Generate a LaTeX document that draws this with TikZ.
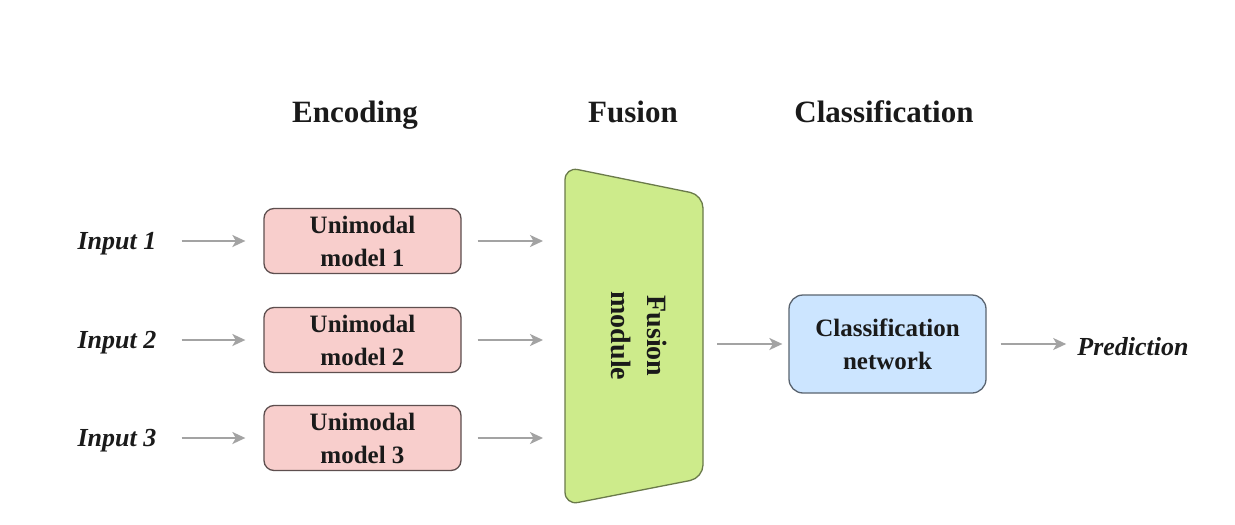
\documentclass[tikz,border=0pt]{standalone}
\usepackage{fontspec}
\setmainfont{Liberation Serif}
\usetikzlibrary{arrows.meta}
\definecolor{pinkfill}{HTML}{F8CECC}
\definecolor{pinkdraw}{HTML}{5E4F4F}
\definecolor{greenfill}{HTML}{CDEB8B}
\definecolor{greendraw}{HTML}{6A7A4A}
\definecolor{bluefill}{HTML}{CCE5FF}
\definecolor{bluedraw}{HTML}{5A6470}
\definecolor{arrowgray}{HTML}{A3A3A3}
\definecolor{txt}{HTML}{1A1A1A}
\begin{document}
\begin{tikzpicture}[x=1pt,y=-1pt,
  heading/.style={font=\fontsize{31}{36}\selectfont\bfseries, text=txt, inner sep=0pt, anchor=base},
  inlabel/.style={font=\fontsize{26}{32}\selectfont\bfseries\itshape, text=txt, inner sep=0pt},
  unibox/.style={draw=pinkdraw, fill=pinkfill, line width=1.3pt, rounded corners=10pt,
    minimum width=197pt, minimum height=65pt, align=center, inner sep=0pt,
    font=\fontsize{25}{33}\selectfont\bfseries, text=txt},
  clsbox/.style={draw=bluedraw, fill=bluefill, line width=1.3pt, rounded corners=14pt,
    minimum width=197pt, minimum height=98pt, align=center, inner sep=0pt,
    font=\fontsize{25}{33}\selectfont\bfseries, text=txt},
  conn/.style={draw=arrowgray, line width=2pt, -{Stealth[length=13pt,width=12pt,inset=3.5pt]}},
]
\useasboundingbox (0,0) rectangle (1235,525);
\fill[white] (0,0) rectangle (1235,525);

% headings
\node[heading] (hEnc) at (355,122) {Encoding};
\node[heading] (hFus) at (633,122) {Fusion};
\node[heading] (hCls) at (884,122) {Classification};

% inputs
\node[inlabel] (in1) at (117,244) {Input 1};
\node[inlabel] (in2) at (117,343) {Input 2};
\node[inlabel] (in3) at (117,441) {Input 3};

% unimodal boxes
\node[unibox] (u1) at (362.5,241) {Unimodal\\model 1};
\node[unibox] (u2) at (362.5,340) {Unimodal\\model 2};
\node[unibox] (u3) at (362.5,438) {Unimodal\\model 3};

% fusion module
\draw[draw=greendraw, fill=greenfill, line width=1.3pt, rounded corners=13pt]
  (565,167) -- (703,195) -- (703,478) -- (565,505) -- cycle;
\node[minimum width=138pt, minimum height=338pt, inner sep=0pt] (fus) at (634,336) {};
\node[rotate=-90, align=center, inner sep=0pt, font=\fontsize{28}{36}\selectfont\bfseries, text=txt]
  (fustext) at (639,336) {Fusion\\module};

% classification
\node[clsbox] (cls) at (887.5,344) {Classification\\network};
\node[inlabel] (pred) at (1133,347) {Prediction};

% connectors
\coordinate (f1) at (543,241);
\coordinate (f2) at (543,340);
\coordinate (f3) at (543,438);
\draw[conn, shorten <=25pt, shorten >=18pt] (in1.east |- u1.west) -- (u1.west);
\draw[conn, shorten <=25pt, shorten >=18pt] (in2.east |- u2.west) -- (u2.west);
\draw[conn, shorten <=25pt, shorten >=18pt] (in3.east |- u3.west) -- (u3.west);
\draw[conn, shorten <=16pt] (u1.east) -- (f1);
\draw[conn, shorten <=16pt] (u2.east) -- (f2);
\draw[conn, shorten <=16pt] (u3.east) -- (f3);
\draw[conn, shorten <=14pt, shorten >=6pt] (fus.east |- cls.west) -- (cls.west);
\draw[conn, shorten <=14pt, shorten >=11pt] (cls.east) -- (pred.west |- cls.east);
\end{tikzpicture}
\end{document}
